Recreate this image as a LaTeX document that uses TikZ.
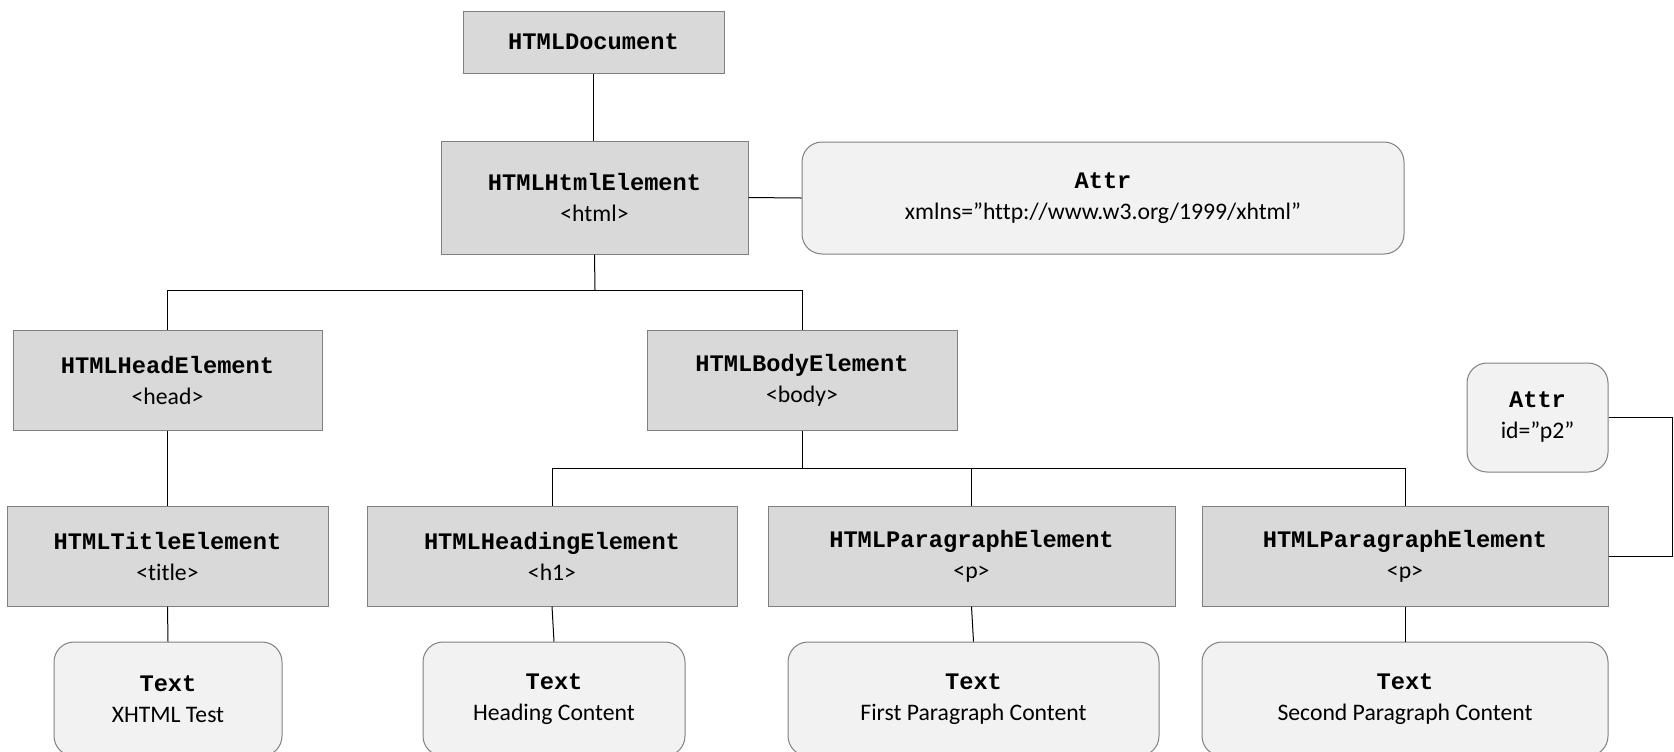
\documentclass[tikz,border=0pt]{standalone}
\usepackage{fontspec}
\setmainfont{Carlito}[Ligatures=NoCommon]
\setmonofont{Liberation Mono}
\usetikzlibrary{calc}

\newcommand{\domname}[1]{\textbf{\ttfamily #1}}

\begin{document}
\begin{tikzpicture}[x=0.5pt,y=-0.5pt,
        font=\fontsize{11.85}{15.5}\selectfont,
        elem/.style={draw=black!50,fill=black!15,rectangle,align=center,inner sep=0pt,line width=0.5pt},
        leaf/.style={draw=black!50,fill=black!5,rectangle,rounded corners=10pt,align=center,inner sep=0pt,line width=0.5pt},
        wire/.style={black,line width=0.5pt}]
    \useasboundingbox (0,0) rectangle (1674,751);

    \node[elem,minimum width=130.5pt,minimum height=31pt]   (doc)     at (593.5,42)    {\domname{HTMLDocument}};
    \node[elem,minimum width=153.5pt,minimum height=56.5pt] (html)    at (594.5,197.5) {\domname{HTMLHtmlElement}\\<html>};
    \node[leaf,minimum width=301pt,minimum height=56pt]     (attrns)  at (1103,198)    {\domname{Attr}\\xmlns=”http://www.w3.org/1999/xhtml”};

    \node[elem,minimum width=154.5pt,minimum height=50pt]   (head)    at (167.5,380)   {\domname{HTMLHeadElement}\\<head>};
    \node[elem,minimum width=155pt,minimum height=50pt]     (body)    at (802,380)     {\domname{HTMLBodyElement}\\<body>};
    \node[leaf,minimum width=70.5pt,minimum height=54.5pt]  (attrid)  at (1537.5,417.5) {\domname{Attr}\\id=”p2”};

    \node[elem,minimum width=160.5pt,minimum height=50pt]   (title)   at (167.5,556)   {\domname{HTMLTitleElement}\\<title>};
    \node[elem,minimum width=185pt,minimum height=50pt]     (heading) at (552,556)     {\domname{HTMLHeadingElement}\\<h1>};
    \node[elem,minimum width=203.5pt,minimum height=50pt]   (para1)   at (971.5,556)   {\domname{HTMLParagraphElement}\\<p>};
    \node[elem,minimum width=203pt,minimum height=50pt]     (para2)   at (1405,556)    {\domname{HTMLParagraphElement}\\<p>};

    \node[leaf,minimum width=114pt,minimum height=57pt]     (txt1)    at (168,699)     {\domname{Text}\\XHTML Test};
    \node[leaf,minimum width=131pt,minimum height=57pt]     (txt2)    at (554,699)     {\domname{Text}\\Heading Content};
    \node[leaf,minimum width=185.5pt,minimum height=57pt]   (txt3)    at (973.5,699)   {\domname{Text}\\First Paragraph Content};
    \node[leaf,minimum width=203pt,minimum height=57pt]     (txt4)    at (1405,699)    {\domname{Text}\\Second Paragraph Content};

    \coordinate (bus1) at (595,290);
    \coordinate (bus2) at (802,468);
    \coordinate (rail) at (1672,487);

    \draw[wire] (doc.south) -- (doc.south|-html.north);
    \draw[wire] (html.east) -- (attrns.west);
    \draw[wire] (html.south) -- (bus1);
    \draw[wire] (head.north) |- (bus1) -| (body.north);
    \draw[wire] (head.south) -- (title.north);
    \draw[wire] (body.south) -- (bus2);
    \draw[wire] (heading.north) |- (bus2) -| (para2.north);
    \draw[wire] (para1.north) -- (para1.north|-bus2);
    \draw[wire] (title.south) -- (txt1.north);
    \draw[wire] (heading.south) -- (txt2.north);
    \draw[wire] (para1.south) -- (txt3.north);
    \draw[wire] (para2.south) -- (txt4.north);
    \draw[wire] (attrid.east) -| (rail) |- (para2.east);
\end{tikzpicture}
\end{document}
